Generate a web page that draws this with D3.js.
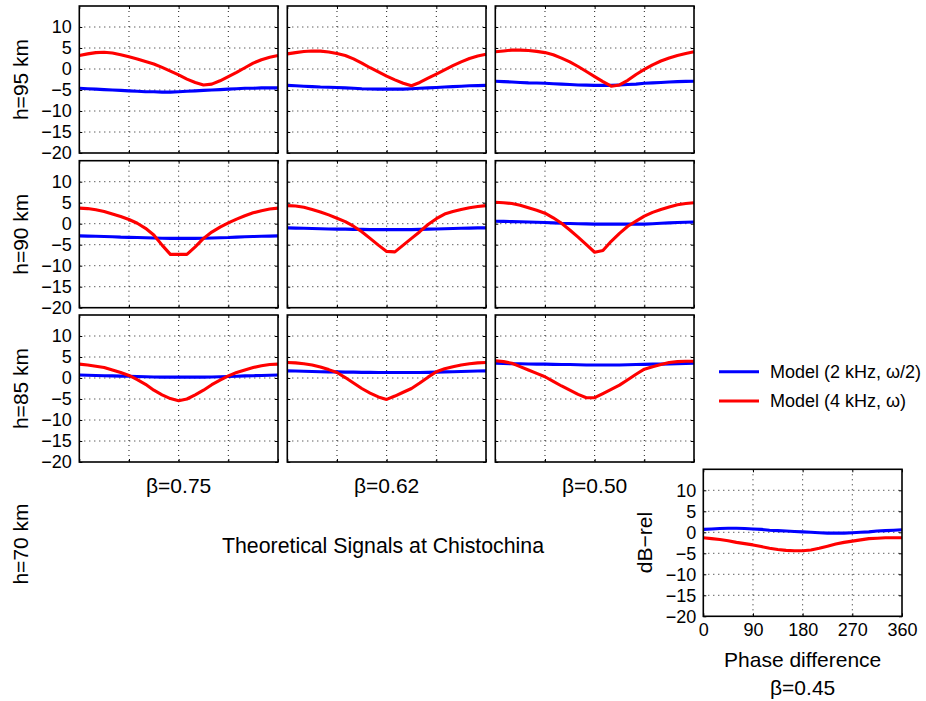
<!DOCTYPE html>
<html><head><meta charset="utf-8">
<script src="https://cdn.jsdelivr.net/npm/d3@7"></script>
<style>
body{margin:0;background:#fff;}
svg{display:block;font-family:"Liberation Sans",Arial,Helvetica,sans-serif;}
</style></head>
<body><svg id="c" width="926" height="701"></svg>
<script>
// ---------- DATA ----------
const phase = [0,15,30,45,60,75,90,105,120,135,150,165,180,195,210,225,240,255,270,285,300,315,330,345,360];
const xTicks = [0,90,180,270,360];
const yTicks = [-20,-15,-10,-5,0,5,10];
const heights = ["h=95 km","h=90 km","h=85 km"];
const betas = ["β=0.75","β=0.62","β=0.50"];
const seriesNames = ["Model (2 kHz, ω/2)","Model (4 kHz, ω)"];

// h=95 km
const blue95_75 = [-4.6,-4.7,-4.8,-4.9,-5.0,-5.1,-5.2,-5.3,-5.4,-5.4,-5.5,-5.5,-5.4,-5.3,-5.2,-5.1,-5.0,-4.9,-4.8,-4.7,-4.6,-4.6,-4.5,-4.5,-4.5];
const red95_75  = [3.2,3.6,3.9,4.0,3.8,3.4,2.9,2.4,1.8,1.2,0.4,-0.5,-1.4,-2.4,-3.2,-3.8,-3.6,-2.8,-1.8,-0.8,0.3,1.4,2.2,2.8,3.2];
const blue95_62 = [-3.9,-4.0,-4.1,-4.2,-4.3,-4.35,-4.4,-4.5,-4.6,-4.7,-4.75,-4.8,-4.8,-4.8,-4.8,-4.7,-4.6,-4.5,-4.4,-4.3,-4.2,-4.1,-4.0,-3.95,-3.9];
const red95_62  = [3.6,3.9,4.15,4.3,4.25,4.05,3.7,3.2,2.4,1.4,0.3,-0.7,-1.7,-2.6,-3.4,-4.0,-3.2,-2.2,-1.2,-0.2,0.8,1.7,2.5,3.1,3.5];
const blue95_50 = [-2.9,-3.0,-3.1,-3.2,-3.3,-3.35,-3.4,-3.5,-3.6,-3.7,-3.8,-3.85,-3.9,-3.9,-3.9,-3.8,-3.7,-3.6,-3.4,-3.3,-3.2,-3.1,-3.0,-2.95,-2.9];
const red95_50  = [4.1,4.3,4.5,4.5,4.4,4.2,3.9,3.4,2.6,1.7,0.6,-0.6,-1.8,-3.0,-4.1,-3.8,-2.7,-1.3,-0.1,1.0,1.9,2.6,3.2,3.7,4.1];
// h=90 km
const blue90_75 = [-2.9,-2.95,-3.0,-3.05,-3.1,-3.2,-3.25,-3.3,-3.35,-3.4,-3.45,-3.5,-3.5,-3.5,-3.5,-3.45,-3.4,-3.35,-3.3,-3.2,-3.1,-3.05,-3.0,-2.95,-2.9];
const red90_75  = [3.7,3.6,3.3,2.9,2.3,1.7,1.0,0.1,-1.1,-2.7,-5.1,-7.3,-7.3,-7.3,-5.5,-3.5,-2.0,-0.8,0.2,1.1,1.9,2.6,3.1,3.5,3.7];
const blue90_62 = [-1.0,-1.05,-1.1,-1.15,-1.2,-1.25,-1.3,-1.3,-1.35,-1.35,-1.4,-1.4,-1.4,-1.4,-1.4,-1.4,-1.35,-1.3,-1.25,-1.2,-1.15,-1.1,-1.05,-1.0,-1.0];
const red90_62  = [4.3,4.2,3.9,3.4,2.8,2.1,1.3,0.5,-0.6,-1.9,-3.5,-5.1,-6.6,-6.7,-5.1,-3.5,-1.9,-0.2,1.2,2.3,2.9,3.4,3.8,4.1,4.3];
const blue90_50 = [0.6,0.55,0.5,0.45,0.4,0.35,0.3,0.2,0.1,0.05,0.0,-0.05,-0.1,-0.1,-0.1,-0.1,-0.1,-0.1,-0.1,0.0,0.1,0.2,0.3,0.35,0.4];
const red90_50  = [5.1,5.0,4.8,4.4,3.8,3.2,2.5,1.4,0.1,-1.5,-3.2,-5.0,-6.8,-6.4,-4.2,-2.3,-0.6,0.6,1.8,2.7,3.4,4.0,4.5,4.8,5.0];
// h=85 km
const blue85_75 = [0.7,0.65,0.6,0.55,0.5,0.45,0.4,0.35,0.3,0.25,0.2,0.2,0.2,0.2,0.2,0.2,0.25,0.3,0.35,0.4,0.5,0.55,0.6,0.65,0.7];
const red85_75  = [3.3,3.1,2.8,2.5,1.9,1.3,0.6,-0.4,-1.5,-2.9,-4.0,-4.9,-5.4,-5.0,-4.0,-2.9,-1.6,-0.5,0.5,1.3,1.9,2.5,2.9,3.2,3.3];
const blue85_62 = [1.7,1.65,1.6,1.55,1.5,1.45,1.45,1.4,1.4,1.35,1.35,1.3,1.3,1.3,1.3,1.3,1.3,1.35,1.4,1.45,1.5,1.55,1.6,1.65,1.7];
const red85_62  = [3.7,3.6,3.4,3.1,2.6,2.0,1.3,0.1,-1.2,-2.5,-3.6,-4.5,-5.1,-4.3,-3.4,-2.5,-1.2,0.2,1.5,2.2,2.7,3.1,3.4,3.6,3.7];
const blue85_50 = [3.5,3.45,3.4,3.4,3.35,3.3,3.3,3.25,3.2,3.2,3.15,3.1,3.1,3.1,3.1,3.1,3.15,3.2,3.25,3.3,3.3,3.35,3.4,3.45,3.5];
const red85_50  = [4.1,3.9,3.5,2.7,1.9,1.1,0.3,-0.8,-1.9,-2.9,-3.9,-4.7,-4.7,-3.7,-2.7,-1.7,-0.4,0.9,2.1,2.7,3.2,3.7,3.9,4.0,4.0];
// h=70 km, beta=0.45
const blue70_45 = [0.7,0.8,0.9,0.95,0.95,0.9,0.8,0.7,0.5,0.4,0.3,0.2,0.1,0.0,-0.1,-0.2,-0.2,-0.2,-0.1,0.0,0.1,0.3,0.4,0.5,0.6];
const red70_45  = [-1.3,-1.5,-1.7,-2.0,-2.4,-2.7,-3.0,-3.4,-3.8,-4.1,-4.3,-4.4,-4.4,-4.2,-3.8,-3.3,-2.8,-2.4,-2.1,-1.8,-1.5,-1.4,-1.3,-1.3,-1.3];

const grid = [
  [[blue95_75,red95_75],[blue95_62,red95_62],[blue95_50,red95_50]],
  [[blue90_75,red90_75],[blue90_62,red90_62],[blue90_50,red90_50]],
  [[blue85_75,red85_75],[blue85_62,red85_62],[blue85_50,red85_50]]
];

// ---------- DRAW ----------
const svg = d3.select("#c");
const colors = ["#0000ff","#ff0000"];
const W = 198.7, H = 147;
const colLefts = [79.3, 287.3, 495.3];
const rowTops = [6, 160.7, 315];
const FT = "18px", FL = "21px";

function panel(x0, y0, data, showY, showX, yLabOffset){
  const g = svg.append("g").attr("transform",`translate(${x0},${y0})`);
  const x = d3.scaleLinear().domain([0,360]).range([0,W]);
  const y = d3.scaleLinear().domain([-20,15]).range([H,0]);
  // grid
  g.append("g").selectAll("line").data(xTicks.slice(1,-1)).join("line")
    .attr("x1",d=>x(d)).attr("x2",d=>x(d)).attr("y1",0).attr("y2",H)
    .attr("stroke","#000").attr("stroke-width",0.9).attr("stroke-dasharray","1,4");
  g.append("g").selectAll("line").data(yTicks.slice(1)).join("line")
    .attr("x1",0).attr("x2",W).attr("y1",d=>y(d)).attr("y2",d=>y(d))
    .attr("stroke","#000").attr("stroke-width",0.9).attr("stroke-dasharray","1,4");
  // inner ticks
  const ax = d3.axisBottom(x).tickValues(xTicks).tickSize(-3).tickFormat("");
  const ax2 = d3.axisTop(x).tickValues(xTicks).tickSize(-3).tickFormat("");
  const ay = d3.axisLeft(y).tickValues(yTicks).tickSize(-3).tickFormat("");
  const ay2 = d3.axisRight(y).tickValues(yTicks).tickSize(-3).tickFormat("");
  [[ax,`translate(0,${H})`],[ax2,"translate(0,0)"],[ay,"translate(0,0)"],[ay2,`translate(${W},0)`]].forEach(([a,t])=>{
    const s = g.append("g").attr("transform",t).call(a);
    s.select(".domain").remove();
    s.selectAll("line").attr("stroke","#000").attr("stroke-width",1);
  });
  // lines
  const line = d3.line().x((d,i)=>x(phase[i])).y(d=>y(d));
  data.forEach((s,k)=>{
    g.append("path").datum(s).attr("d",line).attr("fill","none")
      .attr("stroke",colors[k]).attr("stroke-width",3.1).attr("stroke-linejoin","round");
  });
  // frame
  g.append("rect").attr("x",0).attr("y",0).attr("width",W).attr("height",H)
    .attr("fill","none").attr("stroke","#000").attr("stroke-width",1.6);
  if(showY){
    const a = d3.axisLeft(y).tickValues(yTicks).tickSize(0).tickPadding(yLabOffset);
    const s = g.append("g").call(a);
    s.select(".domain").remove();
    s.selectAll("text").attr("font-size",FT).attr("font-family","Liberation Sans, Arial, sans-serif").attr("fill","#000");
  }
  if(showX){
    const a = d3.axisBottom(x).tickValues(xTicks).tickSize(0).tickPadding(7);
    const s = g.append("g").attr("transform",`translate(0,${H})`).call(a);
    s.select(".domain").remove();
    s.selectAll("text").attr("font-size",FT).attr("font-family","Liberation Sans, Arial, sans-serif").attr("fill","#000");
  }
  return {x,y,g};
}

grid.forEach((row,r)=>row.forEach((cell,c)=>{
  panel(colLefts[c], rowTops[r], cell, c===0, false, 7.5);
}));
panel(703.3, 469.3, [blue70_45, red70_45], true, true, 7);

// row labels
heights.forEach((h,r)=>{
  svg.append("text").attr("transform",`translate(27.5,${rowTops[r]+H/2}) rotate(-90)`)
    .attr("text-anchor","middle").attr("font-size",FL).text(h);
});
svg.append("text").attr("transform",`translate(27.5,544) rotate(-90)`)
  .attr("text-anchor","middle").attr("font-size",FL).text("h=70 km");
// column labels
betas.forEach((b,c)=>{
  svg.append("text").attr("x",colLefts[c]+W/2).attr("y",493)
    .attr("text-anchor","middle").attr("font-size",FL).text(b);
});
svg.append("text").attr("x",383).attr("y",553).attr("text-anchor","middle")
  .attr("font-size","21.3px").text("Theoretical Signals at Chistochina");
// bottom panel labels
svg.append("text").attr("x",703.3+W/2).attr("y",667).attr("text-anchor","middle")
  .attr("font-size",FL).text("Phase difference");
svg.append("text").attr("x",703.3+W/2).attr("y",695).attr("text-anchor","middle")
  .attr("font-size",FL).text("β=0.45");
svg.append("text").attr("transform",`translate(651.5,542.5) rotate(-90)`)
  .attr("text-anchor","middle").attr("font-size",FL).text("dB−rel");
// legend
const ly = [371.7, 401];
seriesNames.forEach((n,k)=>{
  svg.append("line").attr("x1",719).attr("x2",759).attr("y1",ly[k]).attr("y2",ly[k])
    .attr("stroke",colors[k]).attr("stroke-width",3);
  svg.append("text").attr("x",770).attr("y",ly[k]+6.3).attr("font-size","18px").text(n);
});
</script></body></html>
